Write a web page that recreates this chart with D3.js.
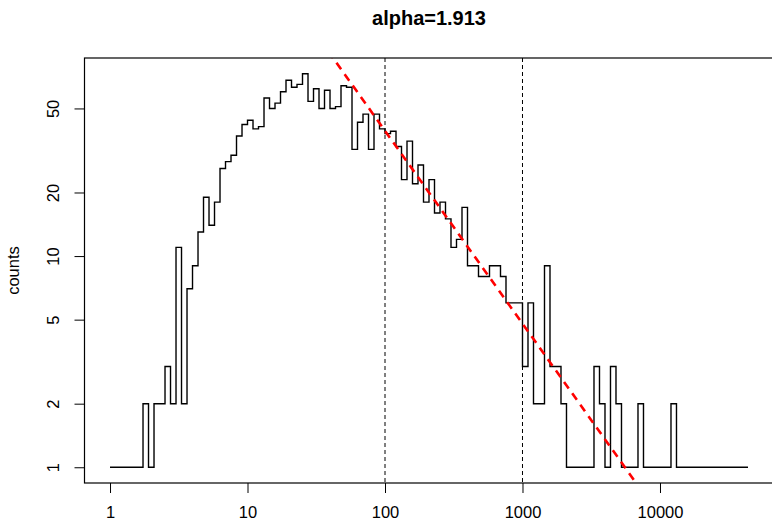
<!DOCTYPE html>
<html>
<head>
<meta charset="utf-8">
<script src="https://cdn.jsdelivr.net/npm/d3@7"></script>
<style>
  html, body { margin: 0; padding: 0; background: #fff; }
  svg { display: block; font-family: "Liberation Sans", Arial, sans-serif; }
</style>
</head>
<body>
<div id="chart"></div>
<script>
// log-binned histogram, bins start at 10^(k * binStep)
const binStep = 0.04;
const counts = [
  1, 1, 1, 1, 1, 1, 2, 1, 2, 2,
  3, 2, 11, 2, 7, 9, 13, 19, 14, 18,
  26, 28, 30, 37, 42, 44, 40, 41, 56, 50,
  53, 60, 68, 63, 65, 73, 54, 62, 50, 61,
  50, 51, 64, 63, 32, 43, 47, 32, 47, 40,
  38, 39, 33, 23, 35, 22, 27, 18, 23, 16,
  18, 15, 11, 12, 17, 9, 9, 8, 8, 9,
  9, 8, 6, 6, 6, 3, 6, 2, 2, 9,
  3, 3, 2, 1, 1, 1, 1, 1, 3, 2,
  1, 3, 2, 1, 1, 1, 2, 1, 1, 1,
  1, 1, 2, 1, 1, 1, 1, 1, 1, 1,
  1, 1, 1, 1, 1, 1, 1
];

const alpha = 1.913;
const fitLogIntercept = 3.419;   // log10 of the power-law prefactor

const xTicks = [1, 10, 100, 1000, 10000];
const yTicks = [1, 2, 5, 10, 20, 50];
const cutoffs = [100, 1000];

const titleText = "alpha=1.913";
const yLabel = "counts";

(function () {
  const width = 772, height = 522;
  const margin = { top: 58, right: -1.5, bottom: 39, left: 84.5 };
  const fontSize = 16.5;

  const points = counts.map((c, i) => ({ x: Math.pow(10, i * binStep), c }));

  // R-style 4% padding in log space
  function padLog(ext) {
    const lo = Math.log10(ext[0]), hi = Math.log10(ext[1]);
    const d = (hi - lo) * 0.04;
    return [Math.pow(10, lo - d), Math.pow(10, hi + d)];
  }

  const x = d3.scaleLog()
    .domain(padLog(d3.extent(points, d => d.x)))
    .range([margin.left, width - margin.right]);

  const y = d3.scaleLog()
    .domain(padLog(d3.extent(points, d => d.c)))
    .range([height - margin.bottom, margin.top]);

  const svg = d3.select("#chart").append("svg")
    .attr("width", width)
    .attr("height", height)
    .attr("viewBox", `0 0 ${width} ${height}`);

  svg.append("defs").append("clipPath")
    .attr("id", "plotClip")
    .append("rect")
    .attr("x", margin.left)
    .attr("y", margin.top)
    .attr("width", width - margin.right - margin.left)
    .attr("height", height - margin.bottom - margin.top);

  // title
  svg.append("text")
    .attr("x", (margin.left + width - margin.right) / 2)
    .attr("y", 25)
    .attr("text-anchor", "middle")
    .style("font-size", "20px")
    .style("font-weight", "bold")
    .text(titleText);

  // y label
  svg.append("text")
    .attr("transform", `translate(13,${(margin.top + height - margin.bottom) / 2}) rotate(-90)`)
    .attr("text-anchor", "middle")
    .attr("dominant-baseline", "central")
    .style("font-size", fontSize + "px")
    .text(yLabel);

  // x axis
  const xAxis = svg.append("g")
    .attr("transform", `translate(0,${height - margin.bottom})`)
    .call(d3.axisBottom(x).tickValues(xTicks).tickSize(10).tickSizeOuter(0).tickFormat(d3.format("d")));
  xAxis.select(".domain").remove();
  xAxis.selectAll("line").attr("stroke", "#000").attr("stroke-width", 1);
  xAxis.selectAll("text")
    .attr("y", 35)
    .attr("dy", 0)
    .attr("fill", "#000")
    .style("font-size", fontSize + "px")
    .style("font-family", "Liberation Sans, Arial, sans-serif");

  // y axis
  const yAxis = svg.append("g")
    .attr("transform", `translate(${margin.left},0)`)
    .call(d3.axisLeft(y).tickValues(yTicks).tickSize(10).tickSizeOuter(0).tickFormat(d3.format("d")));
  yAxis.select(".domain").remove();
  yAxis.selectAll("line").attr("stroke", "#000").attr("stroke-width", 1);
  yAxis.selectAll("text")
    .attr("x", 0)
    .attr("y", -31.5)
    .attr("dy", 0)
    .attr("transform", "rotate(-90)")
    .attr("text-anchor", "middle")
    .attr("dominant-baseline", "central")
    .attr("fill", "#000")
    .style("font-size", fontSize + "px")
    .style("font-family", "Liberation Sans, Arial, sans-serif");

  const plot = svg.append("g").attr("clip-path", "url(#plotClip)");

  // histogram steps
  const step = d3.line()
    .x(d => x(d.x))
    .y(d => y(d.c))
    .curve(d3.curveStepAfter);

  plot.append("path")
    .datum(points)
    .attr("fill", "none")
    .attr("stroke", "#000")
    .attr("stroke-width", 1.4)
    .attr("d", step);

  // cutoff lines
  plot.selectAll(".cutoff")
    .data(cutoffs)
    .enter()
    .append("line")
    .attr("x1", d => x(d))
    .attr("x2", d => x(d))
    .attr("y1", margin.top)
    .attr("y2", height - margin.bottom)
    .attr("stroke", "#000")
    .attr("stroke-width", 1)
    .attr("stroke-dasharray", "4,3");

  // power-law fit
  const fit = v => Math.pow(10, fitLogIntercept - (alpha - 1) * Math.log10(v));
  const xd = x.domain();
  plot.append("line")
    .attr("x1", x(xd[0]))
    .attr("y1", y(fit(xd[0])))
    .attr("x2", x(xd[1]))
    .attr("y2", y(fit(xd[1])))
    .attr("stroke", "#ff0000")
    .attr("stroke-width", 2.6)
    .attr("stroke-dasharray", "8,6");

  // box
  svg.append("rect")
    .attr("x", margin.left)
    .attr("y", margin.top)
    .attr("width", width - margin.right - margin.left)
    .attr("height", height - margin.bottom - margin.top)
    .attr("fill", "none")
    .attr("stroke", "#000")
    .attr("stroke-width", 1.2);
})();
</script>
</body>
</html>
